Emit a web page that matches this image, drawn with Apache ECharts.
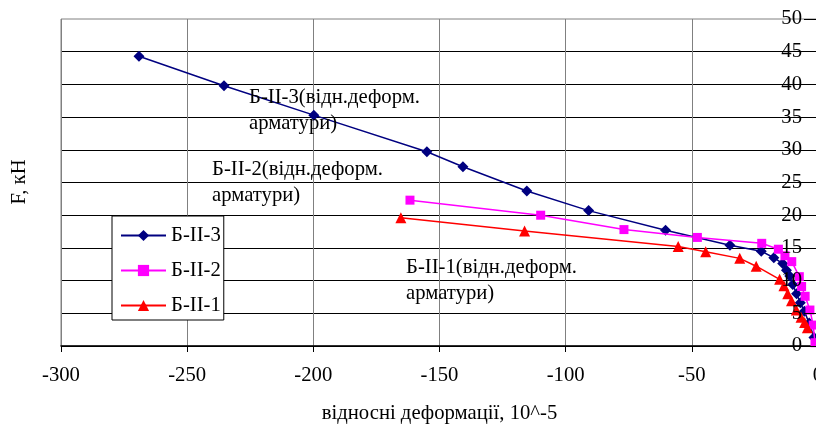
<!DOCTYPE html>
<html>
<head>
<meta charset="utf-8">
<script src="https://cdn.jsdelivr.net/npm/echarts@6/dist/echarts.min.js"></script>
<style>
html,body{margin:0;padding:0;background:#fff;}
#chart{width:816px;height:428px;}
</style>
</head>
<body>
<div id="chart"></div>
<script>
// Series data: [strain 10^-5, F kN]
const seriesNames = ['Б-II-3', 'Б-II-2', 'Б-II-1'];
const b3 = [
  [-269.1, 44.3], [-235.4, 39.8], [-199.8, 35.3], [-155.0, 29.7], [-140.7, 27.4],
  [-115.4, 23.7], [-90.9, 20.7], [-60.4, 17.7], [-34.9, 15.4], [-22.5, 14.5],
  [-17.5, 13.5], [-14.0, 12.6], [-12.5, 11.6], [-11.2, 10.7], [-10.0, 9.4],
  [-8.5, 8.0], [-7.0, 6.6], [-5.4, 5.3], [-3.5, 3.5], [-1.6, 1.3]
];
const b2 = [
  [-161.7, 22.3], [-109.9, 20.0], [-76.9, 17.8], [-47.8, 16.6], [-22.3, 15.7],
  [-15.7, 14.8], [-13.1, 13.8], [-10.4, 12.9], [-7.4, 10.6], [-6.5, 9.1],
  [-5.1, 7.6], [-3.2, 5.5], [-1.9, 3.2], [-1.2, 0.5]
];
const b1 = [
  [-165.3, 19.6], [-116.3, 17.6], [-55.4, 15.2], [-44.5, 14.4], [-31.0, 13.4],
  [-24.5, 12.2], [-15.2, 10.2], [-13.5, 9.2], [-12.0, 8.0], [-10.5, 6.9],
  [-8.6, 5.5], [-6.7, 4.4], [-5.3, 3.6], [-4.2, 2.8]
];
const xTicks = { min: -300, max: 0, step: 50 };
const yTicks = { min: 0, max: 50, step: 5 };
const xName = 'відносні деформації, 10^-5';
const yName = 'F, кН';
const notes = [
  ['Б-II-3(відн.деформ.', 'арматури)'],
  ['Б-II-2(відн.деформ.', 'арматури)'],
  ['Б-II-1(відн.деформ.', 'арматури)']
];

const FONT = '"Liberation Serif", "Times New Roman", serif';
const FS = 20.7;
const chart = echarts.init(document.getElementById('chart'), null, { renderer: 'canvas' });

function noteText(lines, x, y) {
  return {
    type: 'text', left: x, top: y, z: 10,
    style: { text: lines.join('\n'), font: FS + 'px ' + FONT, fill: '#000', lineHeight: 26 }
  };
}

const option = {
  animation: false,
  backgroundColor: '#fff',
  grid: {
    left: 61, top: 19, width: 757, height: 327,
    outerBoundsMode: 'none', containLabel: false,
    show: true, borderColor: '#808080', borderWidth: 1, backgroundColor: 'transparent'
  },
  xAxis: {
    type: 'value', min: xTicks.min, max: xTicks.max, interval: xTicks.step,
    name: xName, nameLocation: 'middle', nameGap: 57,
    nameTextStyle: { fontFamily: FONT, fontSize: FS, color: '#000' },
    axisLine: { show: true, onZero: false, lineStyle: { color: '#000', width: 1.5 } },
    axisTick: { show: true, length: 6, lineStyle: { color: '#000' } },
    axisLabel: { margin: 19, fontFamily: FONT, fontSize: FS, color: '#000' },
    splitLine: { show: true, lineStyle: { color: '#808080', width: 1 } }
  },
  yAxis: [
    {
      type: 'value', position: 'right', min: yTicks.min, max: yTicks.max, interval: yTicks.step,
      z: 10,
      axisLine: { show: true, lineStyle: { color: '#000', width: 1 } },
      axisTick: { show: true, inside: true, length: 14, lineStyle: { color: '#000' } },
      axisLabel: { inside: true, margin: 16, fontFamily: FONT, fontSize: FS, color: '#000' },
      splitLine: { show: false }
    },
    {
      type: 'value', position: 'right', min: yTicks.min, max: yTicks.max, interval: yTicks.step,
      axisLine: { show: false }, axisTick: { show: false }, axisLabel: { show: false },
      splitLine: { show: true, showMaxLine: false, lineStyle: { color: '#000', width: 1 } }
    }
  ],
  legend: {
    orient: 'vertical', left: 112, top: 216, z: 20,
    backgroundColor: '#fff', borderColor: '#000', borderWidth: 1,
    padding: [9, 3, 4, 8], itemGap: 14, itemWidth: 45, itemHeight: 14,
    textStyle: { fontFamily: FONT, fontSize: FS, color: '#000' },
    data: seriesNames
  },
  graphic: [
    noteText(notes[0], 249, 85),
    noteText(notes[1], 212, 157),
    noteText(notes[2], 406, 255),
    {
      type: 'text', x: 20, y: 182, rotation: Math.PI / 2,
      style: { text: yName, font: FS + 'px ' + FONT, fill: '#000', align: 'center', verticalAlign: 'middle' }
    }
  ],
  series: [
    {
      name: seriesNames[0], type: 'line', data: b3, symbol: 'diamond', symbolSize: 11,
      lineStyle: { color: '#000080', width: 1.5 }, itemStyle: { color: '#000080' }, z: 3
    },
    {
      name: seriesNames[1], type: 'line', data: b2, symbol: 'rect', symbolSize: 9,
      lineStyle: { color: '#FF00FF', width: 1.5 }, itemStyle: { color: '#FF00FF' }, z: 4
    },
    {
      name: seriesNames[2], type: 'line', data: b1, symbol: 'triangle', symbolSize: 11,
      lineStyle: { color: '#FF0000', width: 1.5 }, itemStyle: { color: '#FF0000' }, z: 5
    }
  ]
};
chart.setOption(option);
</script>
</body>
</html>
